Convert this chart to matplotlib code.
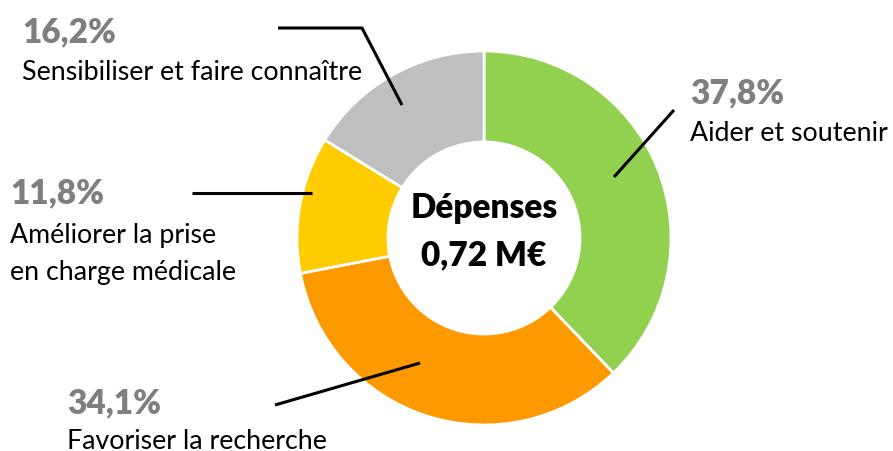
import matplotlib
matplotlib.use("Agg")
import matplotlib.pyplot as plt

categories = ["Aider et soutenir", "Favoriser la recherche",
              "Améliorer la prise\nen charge médicale", "Sensibiliser et faire connaître"]
values = [37.8, 34.1, 11.8, 16.2]
colors = ["#92D050", "#FF9900", "#FFCC00", "#BFBFBF"]
center_title = "Dépenses"
center_value = "0,72 M€"

W, H = 893, 451
fig = plt.figure(figsize=(W / 100, H / 100), dpi=100)
ax = fig.add_axes([0, 0, 1, 1])
plt.rcParams['font.family'] = ['Lato', 'DejaVu Sans']

def Y(y):
    return H - y

cx, cy, R, w = 484, 238, 187, 91
ax.pie(values, colors=colors, startangle=90, counterclock=False,
       center=(cx, Y(cy)), radius=R,
       wedgeprops=dict(width=w, edgecolor="white", linewidth=2))
ax.set_xlim(0, W)
ax.set_ylim(0, H)
ax.set_aspect("auto")
ax.axis("off")

# center text
ax.text(cx, Y(218), center_title, ha="center", va="baseline", fontsize=24,
        fontweight="heavy", color="black")
ax.text(cx, Y(265), center_value, ha="center", va="baseline", fontsize=24,
        fontweight="heavy", color="black")

# label positions (pixel coords): x, pct baseline, name baseline
label_pos = [
    (690, 103, 141),
    (67, 413, 449),
    (10, 203, 243),
    (22, 42, 80),
]
line_gap = 37
for (x, yb, yn), v, name in zip(label_pos, values, categories):
    ax.text(x, Y(yb), f"{v:.1f}%".replace(".", ","), ha="left", va="baseline",
            fontsize=24, fontweight="heavy", color="#7F7F7F")
    for i, part in enumerate(name.split("\n")):
        ax.text(x, Y(yn + i * line_gap), part, ha="left", va="baseline",
                fontsize=19.3, color="black")

# leader lines
lines = [
    [(614, 177), (674, 110)],
    [(420, 363), (275, 405)],
    [(312, 193), (192, 193)],
    [(402, 105), (362, 28), (278, 28)],
]
for pts in lines:
    xs = [p[0] for p in pts]
    ys = [Y(p[1]) for p in pts]
    ax.plot(xs, ys, color="black", lw=2.2, solid_capstyle="butt")

fig.savefig("out.png", dpi=100)
